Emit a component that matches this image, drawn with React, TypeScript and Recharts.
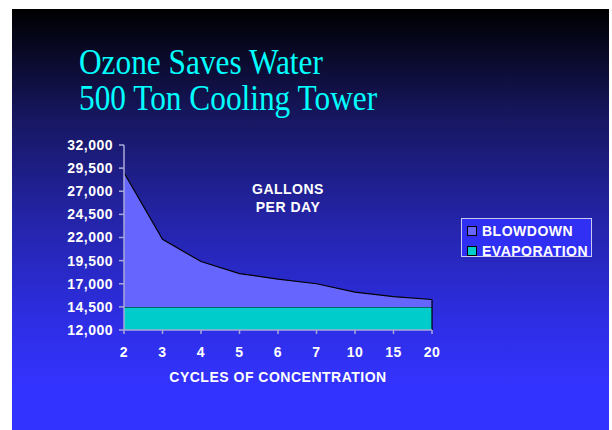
import React from "react"
import {
  AreaChart,
  Area,
  XAxis,
  YAxis,
  ReferenceLine,
} from "recharts"

const cycles = ["2", "3", "4", "5", "6", "7", "10", "15", "20"]
const evaporation = [14500, 14500, 14500, 14500, 14500, 14500, 14500, 14500, 14500]
const blowdown = [14500, 7300, 4900, 3600, 3000, 2500, 1600, 1100, 800]
const yTicks = [12000, 14500, 17000, 19500, 22000, 24500, 27000, 29500, 32000]

const chartData = cycles.map((c, i) => ({
  cycle: c,
  evaporation: evaporation[i],
  blowdown: blowdown[i],
}))

const lastTotal = evaporation[evaporation.length - 1] + blowdown[blowdown.length - 1]

const boldText = {
  fontFamily: "Arial, 'Liberation Sans', sans-serif",
  fontWeight: 700,
  fontSize: 14,
  letterSpacing: 0.5,
  fill: "#FFFFFF",
}

const legendItems = [
  { label: "BLOWDOWN", color: "#6666FF" },
  { label: "EVAPORATION", color: "#00CCCC" },
]

function LegendBox() {
  return (
    <div
      style={{
        position: "absolute",
        left: 461,
        top: 218,
        width: 129,
        height: 37,
        border: "1px solid #C8C8F0",
        background: "#3030F4",
      }}
    >
      {legendItems.map((it, i) => (
        <div
          key={it.label}
          style={{
            display: "flex",
            alignItems: "center",
            height: 20,
            marginTop: i === 0 ? 2 : 0,
            paddingLeft: 5,
          }}
        >
          <span
            style={{
              width: 8,
              height: 8,
              background: it.color,
              border: "1px solid #000",
              marginRight: 5,
              display: "inline-block",
            }}
          />
          <span
            style={{
              color: "#FFF",
              fontFamily: "Arial, 'Liberation Sans', sans-serif",
              fontWeight: 700,
              fontSize: 14,
              letterSpacing: 0.5,
              lineHeight: "20px",
            }}
          >
            {it.label}
          </span>
        </div>
      ))}
    </div>
  )
}

export default function App() {
  return (
    <div
      style={{
        position: "absolute",
        left: 0,
        top: 0,
        width: 612,
        height: 430,
        background: "#FFFFFF",
        overflow: "hidden",
      }}
    >
      <div
        style={{
          position: "absolute",
          left: 12,
          top: 9,
          width: 597,
          height: 421,
          background:
            "linear-gradient(to bottom, #000000 0%, #16165e 25%, #2424a8 50%, #2e2ee6 75%, #3333ff 90%, #3333ff 100%)",
        }}
      />
      <div
        style={{
          position: "absolute",
          left: 79,
          top: 44,
          color: "#00FFFF",
          fontFamily: "'Liberation Serif', 'Times New Roman', serif",
          fontSize: 36,
          lineHeight: "36px",
          whiteSpace: "nowrap",
          transform: "scaleX(0.87)",
          transformOrigin: "left top",
        }}
      >
        Ozone Saves Water
        <br />
        500 Ton Cooling Tower
      </div>
      <div
        style={{
          position: "absolute",
          left: 188,
          top: 180,
          width: 200,
          textAlign: "center",
          color: "#FFF",
          fontFamily: "Arial, 'Liberation Sans', sans-serif",
          fontWeight: 700,
          fontSize: 14,
          letterSpacing: 0.5,
          lineHeight: "18px",
        }}
      >
        GALLONS
        <br />
        PER DAY
      </div>
      <div
        style={{
          position: "absolute",
          left: 124,
          width: 308,
          top: 369,
          textAlign: "center",
          color: "#FFF",
          fontFamily: "Arial, 'Liberation Sans', sans-serif",
          fontWeight: 700,
          fontSize: 14,
          letterSpacing: 0.5,
          lineHeight: "16px",
        }}
      >
        CYCLES OF CONCENTRATION
      </div>
      <LegendBox />
      <div style={{ position: "absolute", left: 0, top: 0 }}>
        <AreaChart
          width={612}
          height={430}
          data={chartData}
          margin={{ top: 145, right: 180, bottom: 70, left: 64 }}
        >
          <XAxis
            dataKey="cycle"
            tick={boldText}
            tickSize={4}
            tickMargin={13}
            axisLine={{ stroke: "#A8A8D8", strokeWidth: 1.5 }}
            tickLine={{ stroke: "#A8A8D8", strokeWidth: 1.5 }}
            height={30}
            interval={0}
          />
          <YAxis
            domain={[12000, 32000]}
            ticks={yTicks}
            allowDataOverflow
            tick={boldText}
            tickSize={5}
            tickMargin={6}
            width={60}
            axisLine={{ stroke: "#A8A8D8", strokeWidth: 1.5 }}
            tickLine={{ stroke: "#A8A8D8", strokeWidth: 1.5 }}
            tickFormatter={(v: number) => v.toLocaleString("en-US")}
            interval={0}
          />
          <Area
            type="linear"
            dataKey="evaporation"
            stackId="a"
            name="EVAPORATION"
            stroke="#000000"
            strokeWidth={1.2}
            fill="#00CCCC"
            fillOpacity={1}
            isAnimationActive={false}
            dot={false}
            activeDot={false}
          />
          <Area
            type="linear"
            dataKey="blowdown"
            stackId="a"
            name="BLOWDOWN"
            stroke="#000000"
            strokeWidth={1.2}
            fill="#6666FF"
            fillOpacity={1}
            isAnimationActive={false}
            dot={false}
            activeDot={false}
          />
          <ReferenceLine
            segment={[
              { x: cycles[cycles.length - 1], y: 12000 },
              { x: cycles[cycles.length - 1], y: lastTotal },
            ]}
            stroke="#000000"
            strokeWidth={1.2}
          />
        </AreaChart>
      </div>
    </div>
  )
}
